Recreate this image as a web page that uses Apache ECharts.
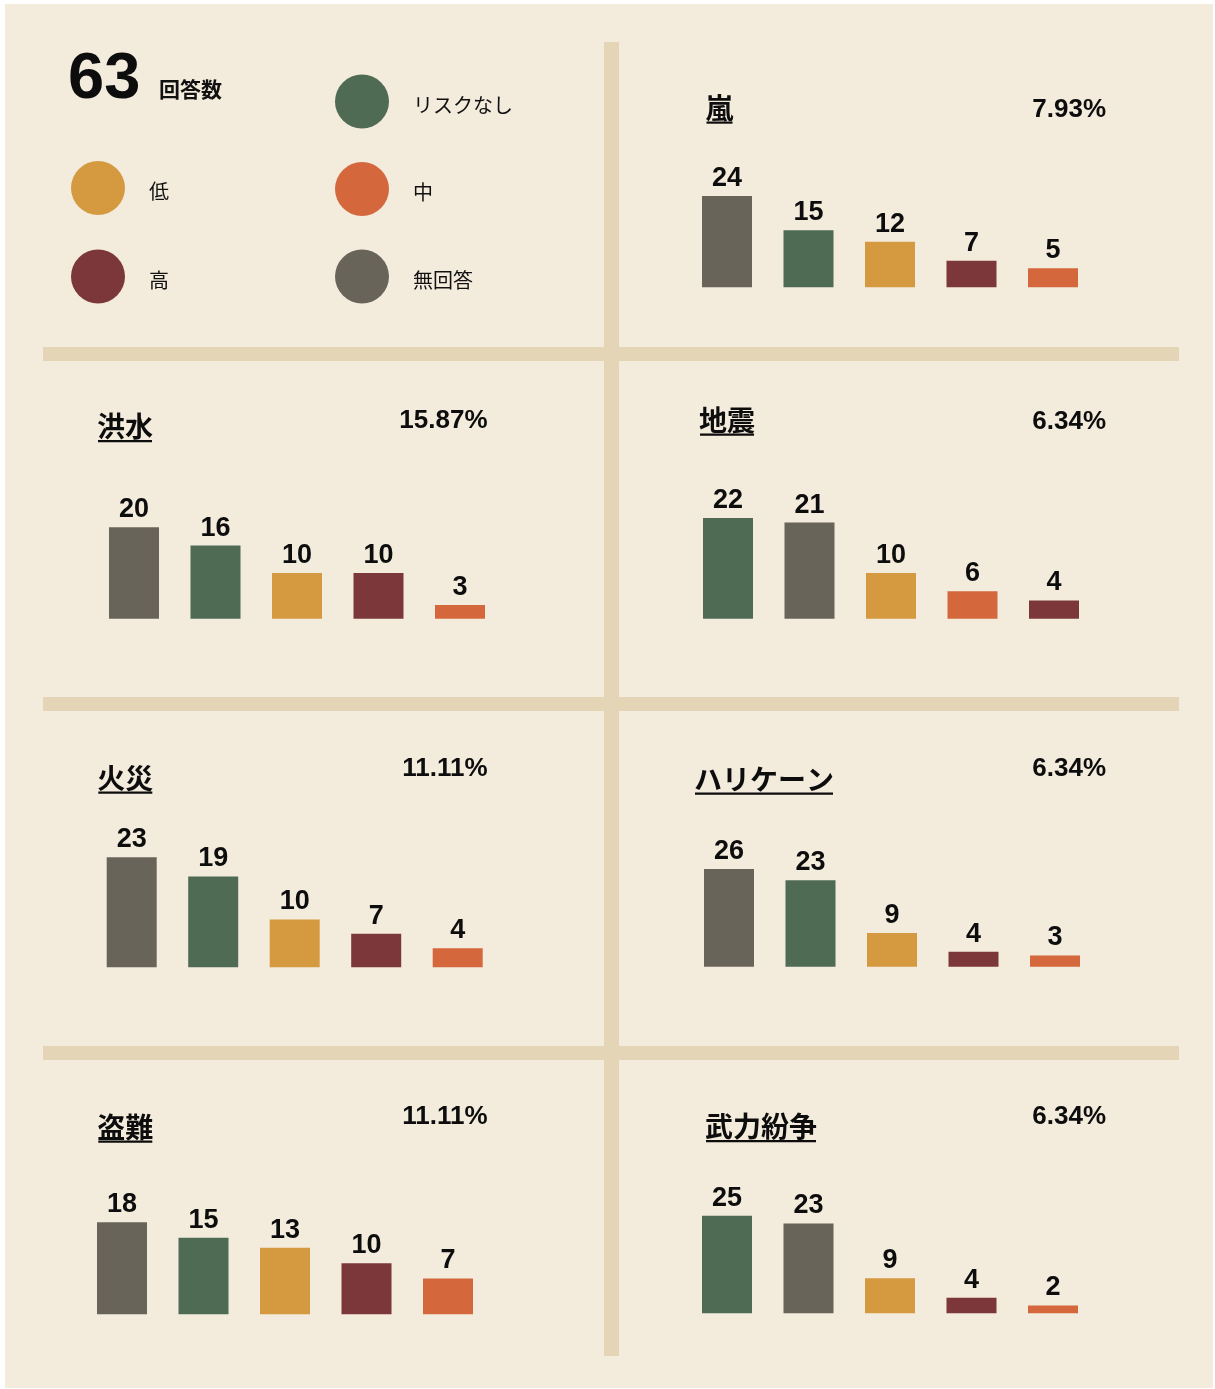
<!DOCTYPE html>
<html>
<head>
<meta charset="utf-8">
<script src="https://cdn.jsdelivr.net/npm/echarts@6/dist/echarts.min.js"></script>
<style>
  html, body { margin: 0; padding: 0; background: #ffffff; }
  #chart { width: 1215px; height: 1389px; }
</style>
</head>
<body>
<div id="chart"></div>
<script>
// ---------- DATA ----------
const totalResponses = 63;
const totalLabel = '回答数';
const riskLevels = ['リスクなし', '低', '中', '高', '無回答'];
const panelNames = ['嵐', '洪水', '地震', '火災', 'ハリケーン', '盗難', '武力紛争'];
const panelShares = ['7.93%', '15.87%', '6.34%', '11.11%', '6.34%', '11.11%', '6.34%'];
const stormOrder = ['無回答', 'リスクなし', '低', '高', '中'];
const stormValues = [24, 15, 12, 7, 5];
const floodOrder = ['無回答', 'リスクなし', '低', '高', '中'];
const floodValues = [20, 16, 10, 10, 3];
const quakeOrder = ['リスクなし', '無回答', '低', '中', '高'];
const quakeValues = [22, 21, 10, 6, 4];
const fireOrder = ['無回答', 'リスクなし', '低', '高', '中'];
const fireValues = [23, 19, 10, 7, 4];
const hurricaneOrder = ['無回答', 'リスクなし', '低', '高', '中'];
const hurricaneValues = [26, 23, 9, 4, 3];
const theftOrder = ['無回答', 'リスクなし', '低', '高', '中'];
const theftValues = [18, 15, 13, 10, 7];
const conflictOrder = ['リスクなし', '無回答', '低', '高', '中'];
const conflictValues = [25, 23, 9, 4, 2];

const panelOrders = [stormOrder, floodOrder, quakeOrder, fireOrder, hurricaneOrder, theftOrder, conflictOrder];
const panelValues = [stormValues, floodValues, quakeValues, fireValues, hurricaneValues, theftValues, conflictValues];

// ---------- STYLE / LAYOUT ----------
const levelColors = {
  'リスクなし': '#4f6b54',
  '低': '#d59940',
  '中': '#d4683c',
  '高': '#7b3739',
  '無回答': '#686459'
};
const FONT_LATIN = '"Liberation Sans", Arial, Helvetica, sans-serif';
const FONT_JP = '"Noto Sans CJK JP", "Noto Sans CJK SC", sans-serif';
const BAND = 81.5;
// title x/y (ink centre), share right/y, grid left, bars baseline, tallest bar top
const panelLayout = [
  { tx: 705.5, ty: 108,    px: 1106,  py: 110,    gl: 686.25, base: 287.3,  top: 196 },
  { tx: 97,    ty: 426.5,  px: 487.5, py: 421,    gl: 93.25,  base: 618.7,  top: 527.3 },
  { tx: 699,   ty: 420,    px: 1106,  py: 422,    gl: 687.25, base: 618.7,  top: 518 },
  { tx: 97.3,  ty: 778,    px: 487.5, py: 769,    gl: 90.95,  base: 967.3,  top: 857.3 },
  { tx: 694,   ty: 779,    px: 1106,  py: 769,    gl: 688.25, base: 966.7,  top: 869 },
  { tx: 97.3,  ty: 1127,   px: 487.5, py: 1116.5, gl: 81.25,  base: 1314.3, top: 1222.3 },
  { tx: 705,   ty: 1126.5, px: 1106,  py: 1117,   gl: 686.25, base: 1313.3, top: 1215.7 }
];

function textWidth(t, font) {
  const c = document.createElement('canvas').getContext('2d');
  c.font = font;
  return c.measureText(t).width;
}

const grids = [], xAxes = [], yAxes = [], series = [];
const graphics = [
  { type: 'rect', z: -10, shape: { x: 5, y: 4, width: 1208, height: 1384 }, style: { fill: '#f3ebdc' } },
  { type: 'rect', z: -9, shape: { x: 604, y: 42, width: 15, height: 1314 }, style: { fill: '#e4d5b6' } },
  { type: 'rect', z: -9, shape: { x: 43, y: 347, width: 1136, height: 14 }, style: { fill: '#e4d5b6' } },
  { type: 'rect', z: -9, shape: { x: 43, y: 697, width: 1136, height: 14 }, style: { fill: '#e4d5b6' } },
  { type: 'rect', z: -9, shape: { x: 43, y: 1046, width: 1136, height: 14 }, style: { fill: '#e4d5b6' } },
  { type: 'text', x: 68, y: 80.5, style: { text: String(totalResponses), fill: '#0d0d0d',
      font: 'bold 65px ' + FONT_LATIN, textVerticalAlign: 'middle' } },
  { type: 'text', x: 159, y: 89, style: { text: totalLabel, fill: '#111',
      font: 'bold 21px ' + FONT_JP, textVerticalAlign: 'middle' } }
];

panelNames.forEach((name, p) => {
  const L = panelLayout[p];
  const order = panelOrders[p];
  const vals = panelValues[p];
  grids.push({ left: L.gl, top: L.top, width: BAND * order.length, height: L.base - L.top, containLabel: false });
  xAxes.push({ type: 'category', gridIndex: p, data: order, show: false });
  yAxes.push({ type: 'value', gridIndex: p, min: 0, max: Math.max(...vals), show: false });
  riskLevels.forEach(level => {
    series.push({
      type: 'bar',
      name: level,
      xAxisIndex: p,
      yAxisIndex: p,
      barWidth: 50,
      barGap: '-100%',
      data: order.map((o, i) => (o === level ? vals[i] : '-')),
      itemStyle: { color: levelColors[level] },
      label: {
        show: true, position: 'top', distance: 4,
        color: '#0d0d0d', fontSize: 27, fontWeight: 'bold', fontFamily: FONT_LATIN
      },
      emphasis: { disabled: true },
      silent: true
    });
  });
  const titleFont = 'bold 28px ' + FONT_JP;
  const w = textWidth(name, titleFont);
  graphics.push({ type: 'text', x: L.tx, y: L.ty,
    style: { text: name, fill: '#0d0d0d', font: titleFont, textVerticalAlign: 'middle' } });
  graphics.push({ type: 'rect', shape: { x: L.tx + 1, y: L.ty + 13.5, width: w - 2, height: 2.2 },
    style: { fill: '#0d0d0d' } });
  graphics.push({ type: 'text', x: L.px, y: L.py,
    style: { text: panelShares[p], fill: '#0d0d0d', font: 'bold 26px ' + FONT_LATIN,
      textAlign: 'right', textVerticalAlign: 'middle' } });
});

const legendText = {
  color: '#111', fontSize: 20, fontFamily: FONT_JP,
  rich: { t: { fontSize: 20, fontFamily: FONT_JP, color: '#111', padding: [7, 0, 0, 0] } }
};
const legendFormatter = name => '{t|' + name + '}';
const option = {
  backgroundColor: '#ffffff',
  animation: false,
  grid: grids,
  xAxis: xAxes,
  yAxis: yAxes,
  series: series,
  graphic: { elements: graphics },
  legend: [
    { data: ['低', '高'], orient: 'vertical', left: 71, top: 161, padding: 0,
      itemWidth: 92, itemHeight: 54, itemGap: 34.5, icon: 'circle', selectedMode: false,
      formatter: legendFormatter, textStyle: legendText },
    { data: ['リスクなし', '中', '無回答'], orient: 'vertical', left: 335, top: 74.5, padding: 0,
      itemWidth: 92, itemHeight: 54, itemGap: 33.5, icon: 'circle', selectedMode: false,
      formatter: legendFormatter, textStyle: legendText }
  ]
};

const chart = echarts.init(document.getElementById('chart'), null, { renderer: 'canvas' });
chart.setOption(option);
</script>
</body>
</html>
